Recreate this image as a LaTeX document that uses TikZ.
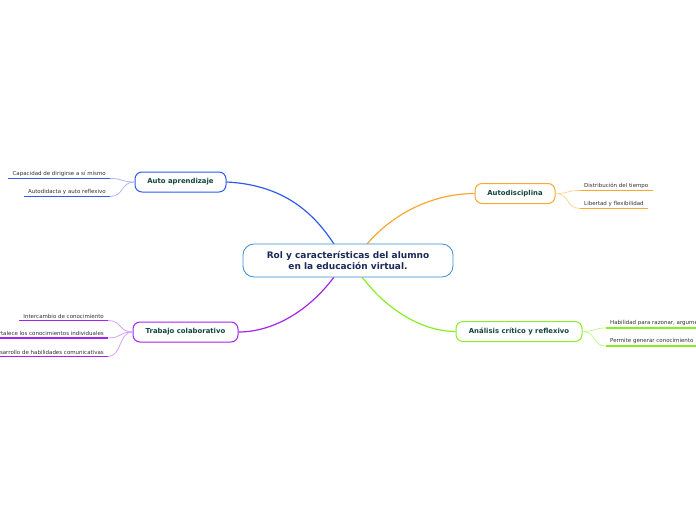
\documentclass[tikz,border=0pt]{standalone}
\usepackage{fontspec}
\setmainfont{DejaVu Sans}
\definecolor{cblue}{HTML}{2F5BF0}
\definecolor{cblueL}{HTML}{A9B9F8}
\definecolor{corange}{HTML}{F9A832}
\definecolor{corangeL}{HTML}{FBD79C}
\definecolor{cgreen}{HTML}{88EE22}
\definecolor{cgreenL}{HTML}{C6F79A}
\definecolor{cpurple}{HTML}{A622EE}
\definecolor{cpurpleL}{HTML}{D7A3F7}
\definecolor{ccentral}{HTML}{3B8DD4}
\definecolor{cnavy}{HTML}{1B2A58}
\definecolor{cdkgreen}{HTML}{12463A}
\definecolor{csub}{HTML}{333333}
\tikzset{
  central/.style={draw=ccentral, line width=0.8pt, fill=white, rounded corners=11pt,
    minimum width=210pt, minimum height=33pt, align=center, text=cnavy,
    font=\fontsize{9}{11}\selectfont\bfseries},
  topic/.style={draw=#1, line width=1pt, fill=white, rounded corners=7pt,
    minimum height=20pt, text=cdkgreen, font=\fontsize{6.9}{8}\selectfont\bfseries},
  sub/.style={inner xsep=4pt, inner ysep=2pt, text=csub, font=\fontsize{5.5}{6.5}\selectfont},
  uline/.style={line width=1.5pt, draw=#1},
  main/.style={line width=1.2pt, draw=#1},
  thin/.style={line width=0.8pt, draw=#1},
}
\begin{document}
\begin{tikzpicture}[x=1pt,y=-1pt]
\useasboundingbox (0,0) rectangle (696,520);
\clip (0,0) rectangle (696,520);
\fill[white] (0,0) rectangle (696,520);

\coordinate (cb) at (334,244);
\coordinate (co) at (367,244);
\coordinate (cp) at (334,277);
\coordinate (cg) at (362,277);

\node[topic=cblue, minimum width=91pt] (auto) at (180.5,182) {Auto aprendizaje};
\node[topic=corange, minimum width=80pt] (disc) at (515,193.5) {Autodisciplina};
\node[topic=cgreen, minimum width=126pt] (anal) at (519,331.5) {Análisis crítico y reflexivo};
\node[topic=cpurple, minimum width=105pt] (trab) at (185.5,332) {Trabajo colaborativo};

\draw[main=cblue] (auto.east) .. controls (290,185) and (318,220) .. (cb);
\draw[main=corange] (co) .. controls (398,208) and (440,193.5) .. (disc.west);
\draw[main=cpurple] (cp) .. controls (308,312) and (272,332) .. (trab.east);
\draw[main=cgreen] (cg) .. controls (392,316) and (428,331.5) .. (anal.west);

\node[central] (c) at (348,260.5) {Rol y características del alumno\\en la educación virtual.};

\node[sub, anchor=south east] (a1) at (110,178.5) {Capacidad de dirigirse a sí mismo};
\node[sub, anchor=south east] (a2) at (110,196.5) {Autodidacta y auto reflexivo};
\node[sub, anchor=south west] (d1) at (580,190.5) {Distribución del tiempo};
\node[sub, anchor=south west] (d2) at (580,208.5) {Libertad y flexibilidad};
\node[sub, anchor=south west] (g1) at (606,328) {Habilidad para razonar, argumentar y reflexionar};
\node[sub, anchor=south west] (g2) at (606,346) {Permite generar conocimiento};
\node[sub, anchor=south east] (t1) at (108,320.5) {Intercambio de conocimiento};
\node[sub, anchor=south east] (t2) at (108,338) {Fortalece los conocimientos individuales};
\node[sub, anchor=south east] (t3) at (108,356.5) {Desarrollo de habilidades comunicativas};

\foreach \n in {a1,a2}{\draw[uline=cblue] (\n.south west) -- (\n.south east);}
\foreach \n in {d1,d2}{\draw[uline=corange] (\n.south west) -- (\n.south east);}
\foreach \n in {g1,g2}{\draw[uline=cgreen] (\n.south west) -- (\n.south east);}
\foreach \n in {t1,t2,t3}{\draw[uline=cpurple] (\n.south west) -- (\n.south east);}

\foreach \n in {a1,a2}{\draw[thin=cblueL] (auto.west) .. controls +(-14,0) and +(14,0) .. (\n.south east);}
\foreach \n in {d1,d2}{\draw[thin=corangeL] (disc.east) .. controls +(14,0) and +(-14,0) .. (\n.south west);}
\foreach \n in {g1,g2}{\draw[thin=cgreenL] (anal.east) .. controls +(14,0) and +(-14,0) .. (\n.south west);}
\foreach \n in {t1,t2,t3}{\draw[thin=cpurpleL] (trab.west) .. controls +(-14,0) and +(14,0) .. (\n.south east);}
\end{tikzpicture}
\end{document}
